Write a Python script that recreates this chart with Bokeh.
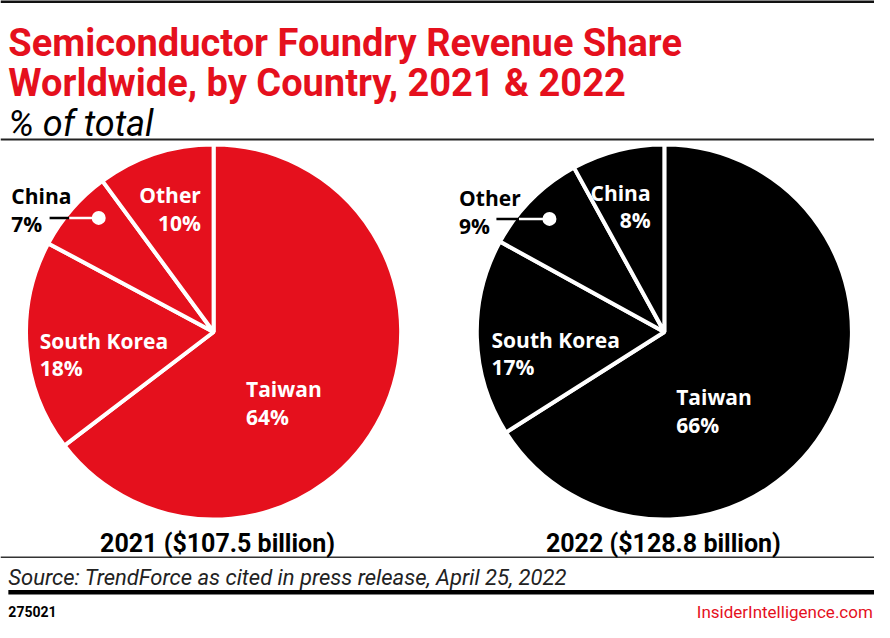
import numpy as np
from bokeh.plotting import figure
from bokeh.models import Range1d, ColumnDataSource
from bokeh.core.properties import value
from bokeh.embed import file_html
from bokeh.resources import INLINE

# ---- data ----
countries_2021 = ["Taiwan", "South Korea", "China", "Other"]
share_2021 = [64, 18, 7, 10]
countries_2022 = ["Taiwan", "South Korea", "Other", "China"]
share_2022 = [66, 17, 9, 8]
captions = ["2021 ($107.5 billion)", "2022 ($128.8 billion)"]

title_lines = ["Semiconductor Foundry Revenue Share",
               "Worldwide, by Country, 2021 & 2022"]
subtitle = "% of total"
source_text = "Source: TrendForce as cited in press release, April 25, 2022"
chart_id = "275021"
brand = "InsiderIntelligence.com"

RED = "#E5101D"
W, H = 874, 622
R = 191


def Y(py):
    return 638 - py


p = figure(width=W, height=H, x_range=Range1d(0, 890), y_range=Range1d(0, 638),
           output_backend="svg", toolbar_location=None, min_border=0,
           x_axis_location=None, y_axis_location=None)
p.grid.visible = False
p.outline_line_color = None
p.background_fill_color = "white"
p.border_fill_color = "white"

TITLE_FONT = value("Roboto")
LABEL_FONT = value("Open Sans")


def txt(x, py, s, size, color="black", style="normal", align="left", font=TITLE_FONT):
    p.text(x=[x], y=[Y(py)], text=[s], text_font=font, text_font_size=f"{size}px",
           text_font_style=style, text_color=color, text_align=align,
           text_baseline="alphabetic")


def hline(py, width, color="black", x0=0, x1=890):
    p.segment(x0=[x0], y0=[Y(py)], x1=[x1], y1=[Y(py)], line_color=color, line_width=width)


# rules
hline(1, 3, "#111111")
hline(142.5, 2, "#222222")
hline(571, 1.5, "#333333")
hline(607, 4.5, "black", x0=8)

# title
txt(8, 44, title_lines[0], 38, RED, "bold")
txt(8, 85, title_lines[1], 38, RED, "bold")
txt(8, 127, subtitle, 36, "black", "italic")


def pie(cx, cy, labels, vals, color):
    v = np.array(vals, dtype=float)
    frac = v / v.sum()
    cum = np.concatenate([[0.0], np.cumsum(frac)])
    start = np.pi / 2 - 2 * np.pi * cum[:-1]
    end = np.pi / 2 - 2 * np.pi * cum[1:]
    src = ColumnDataSource(dict(start=start, end=end, country=labels, share=vals))
    p.wedge(x=cx, y=Y(cy), radius=R, start_angle="start", end_angle="end",
            direction="clock", fill_color=color, line_color="white", line_width=4,
            source=src)


C1 = (217, 340)
C2 = (676, 340)
pie(C1[0], C1[1], countries_2021, share_2021, RED)
pie(C2[0], C2[1], countries_2022, share_2022, "black")

LS = 21
d21 = dict(zip(countries_2021, share_2021))
d22 = dict(zip(countries_2022, share_2022))

# 2021 labels
txt(250, 399, "Taiwan", LS, "white", "bold", font=LABEL_FONT)
txt(250, 427, f"{d21['Taiwan']}%", LS, "white", "bold", font=LABEL_FONT)
txt(40, 349, "South Korea", LS, "white", "bold", font=LABEL_FONT)
txt(40, 377, f"{d21['South Korea']}%", LS, "white", "bold", font=LABEL_FONT)
txt(204, 200, "Other", LS, "white", "bold", "right", font=LABEL_FONT)
txt(204, 228, f"{d21['Other']}%", LS, "white", "bold", "right", font=LABEL_FONT)
txt(11, 201, "China", LS, "black", "bold", font=LABEL_FONT)
txt(11, 229, f"{d21['China']}%", LS, "black", "bold", font=LABEL_FONT)
p.segment(x0=[50], y0=[Y(223)], x1=[70], y1=[Y(223)], line_color="black", line_width=2.5)
p.segment(x0=[70], y0=[Y(223)], x1=[100], y1=[Y(223)], line_color="white", line_width=2.5)
p.scatter(x=[100], y=[Y(223)], size=14, fill_color="white", line_color=None)

# 2022 labels
txt(688, 407, "Taiwan", LS, "white", "bold", font=LABEL_FONT)
txt(688, 435, f"{d22['Taiwan']}%", LS, "white", "bold", font=LABEL_FONT)
txt(500, 348, "South Korea", LS, "white", "bold", font=LABEL_FONT)
txt(500, 376, f"{d22['South Korea']}%", LS, "white", "bold", font=LABEL_FONT)
txt(662, 197, "China", LS, "white", "bold", "right", font=LABEL_FONT)
txt(662, 225, f"{d22['China']}%", LS, "white", "bold", "right", font=LABEL_FONT)
txt(467, 203, "Other", LS, "black", "bold", font=LABEL_FONT)
txt(467, 231, f"{d22['Other']}%", LS, "black", "bold", font=LABEL_FONT)
p.segment(x0=[505], y0=[Y(224)], x1=[528], y1=[Y(224)], line_color="black", line_width=2.5)
p.segment(x0=[528], y0=[Y(224)], x1=[559], y1=[Y(224)], line_color="white", line_width=2.5)
p.scatter(x=[559], y=[Y(224)], size=14, fill_color="white", line_color=None)

# captions
txt(221, 557, captions[0], 25, "black", "bold", "center")
txt(675, 557, captions[1], 25, "black", "bold", "center")

# footer
txt(8, 592, source_text, 22, "#222222", "italic")
txt(8, 627, chart_id, 14, "black", "bold")
txt(709, 627, brand, 17, RED, "normal")

open("out.html", "w").write(file_html(p, INLINE))
